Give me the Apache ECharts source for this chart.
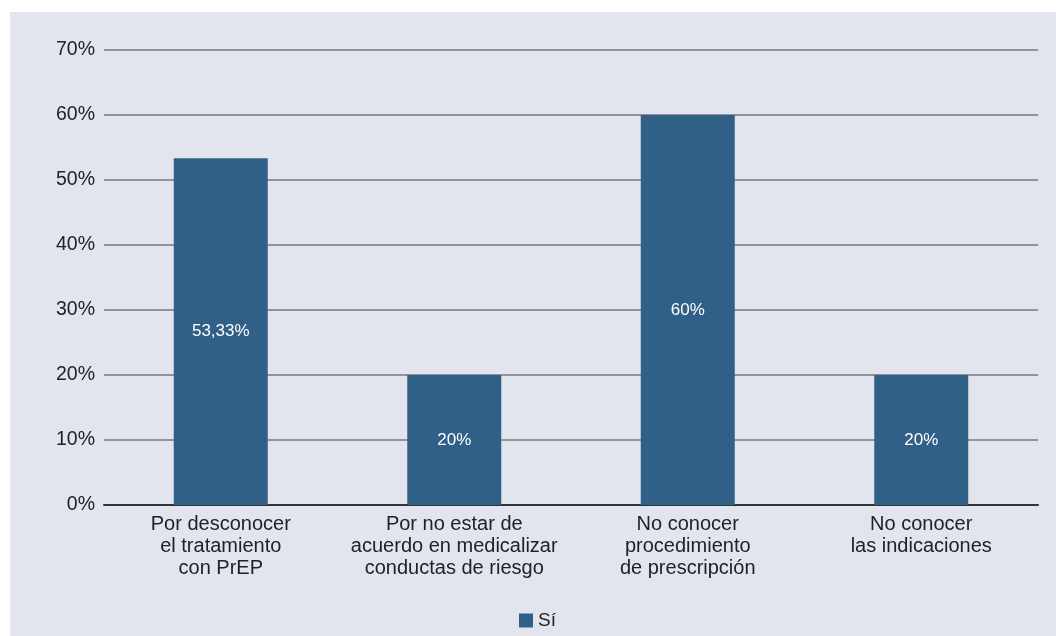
<!DOCTYPE html>
<html>
<head>
<meta charset="utf-8">
<script src="https://cdn.jsdelivr.net/npm/echarts@6/dist/echarts.min.js"></script>
<style>
html,body{margin:0;padding:0;background:#ffffff;width:1056px;height:636px;overflow:hidden;}
#chart{position:absolute;left:10px;top:12px;width:1046px;height:624px;background:#e2e5ed;}
</style>
</head>
<body>
<div id="chart"></div>
<script>
const categories = [
  "Por desconocer\nel tratamiento\ncon PrEP",
  "Por no estar de\nacuerdo en medicalizar\nconductas de riesgo",
  "No conocer\nprocedimiento\nde prescripción",
  "No conocer\nlas indicaciones"
];
const seriesName = "Sí";
const values = [53.33, 20, 60, 20];
const yTicks = [0, 10, 20, 30, 40, 50, 60, 70];

const fmt = v => String(v).replace('.', ',') + '%';
const FONT = 'Liberation Sans, Arial, sans-serif';
const chart = echarts.init(document.getElementById('chart'), null, {renderer: 'canvas'});
chart.setOption({
  backgroundColor: 'transparent',
  animation: false,
  textStyle: {fontFamily: FONT},
  grid: {left: 94, right: 18, top: 38, bottom: 131, containLabel: false},
  legend: {
    data: [seriesName],
    left: 509,
    top: 599,
    itemWidth: 14, itemHeight: 14, itemGap: 10, padding: [0, 0, 0, 0],
    icon: 'rect',
    textStyle: {fontSize: 19, color: '#222222', fontFamily: FONT}
  },
  xAxis: {
    type: 'category',
    data: categories,
    axisLine: {show: true, lineStyle: {color: '#333333', width: 2}},
    axisTick: {show: false},
    axisLabel: {fontSize: 20, color: '#222222', lineHeight: 22, margin: 8, interval: 0, fontFamily: FONT}
  },
  yAxis: {
    type: 'value',
    min: yTicks[0], max: yTicks[yTicks.length - 1], interval: 10,
    axisLine: {show: false},
    axisTick: {show: false},
    axisLabel: {fontSize: 19.5, color: '#222222', margin: 9, fontFamily: FONT, formatter: v => v + '%'},
    splitLine: {lineStyle: {color: '#77777d', width: 1.5}}
  },
  series: [{
    name: seriesName,
    type: 'bar',
    data: values,
    barWidth: 94,
    itemStyle: {color: '#305f87'},
    label: {show: true, position: 'inside', color: '#ffffff', fontSize: 17, fontFamily: FONT, formatter: p => fmt(p.value)}
  }]
});
</script>
</body>
</html>
